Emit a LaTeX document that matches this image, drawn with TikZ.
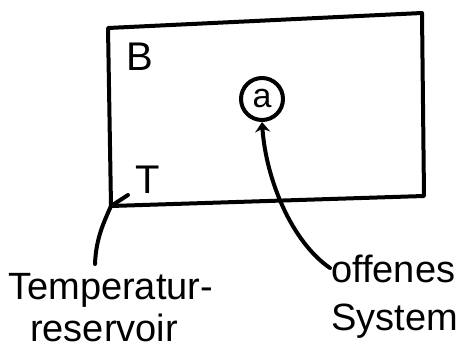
\documentclass[tikz,border=0pt]{standalone}
\usepackage{fontspec}
\setmainfont{Liberation Sans}
\usetikzlibrary{arrows.meta}
\tikzset{
  pen/.style={line width=4pt, line cap=round, line join=round},
  lbl/.style={inner sep=0pt, anchor=base west, font=\fontsize{38}{38}\selectfont},
  letter/.style={inner sep=0pt, font=\fontsize{40}{40}\selectfont},
}
\begin{document}
\begin{tikzpicture}[x=1pt,y=-1pt]
\useasboundingbox (0,0) rectangle (458,348);
% reservoir box
\coordinate (tl) at (108,28);
\coordinate (tr) at (422,13);
\coordinate (br) at (424,196);
\coordinate (bl) at (111,206);
\draw[pen] (tl) -- (tr) -- (br) -- (bl) -- cycle;
\node[letter] (B) at (140,57) {B};
\node[letter] (T) at (148,180) {T};
\node[circle, draw, pen, minimum size=42pt, inner sep=0pt, font=\fontsize{34}{34}\selectfont] (sys) at (262,99) {a};
% labels
\node[lbl] (temp) at (8,299) {Temperatur-};
\node[lbl] (res) at (30,341) {reservoir};
\node[lbl] (off) at (331,282) {offenes};
\node[lbl] (syst) at (331,330) {System};
% connectors
\coordinate (tk) at (128,195);
\coordinate (tstart) at (95,264);
\draw[pen] (tstart) .. controls (96,238) and (104,222) .. (bl) -- (tk);
\coordinate (ostart) at (330,268);
\draw[pen, -{Stealth[length=10pt, width=15pt]}] (ostart) .. controls (292,242) and (266,180) .. (sys.south);
\end{tikzpicture}
\end{document}
